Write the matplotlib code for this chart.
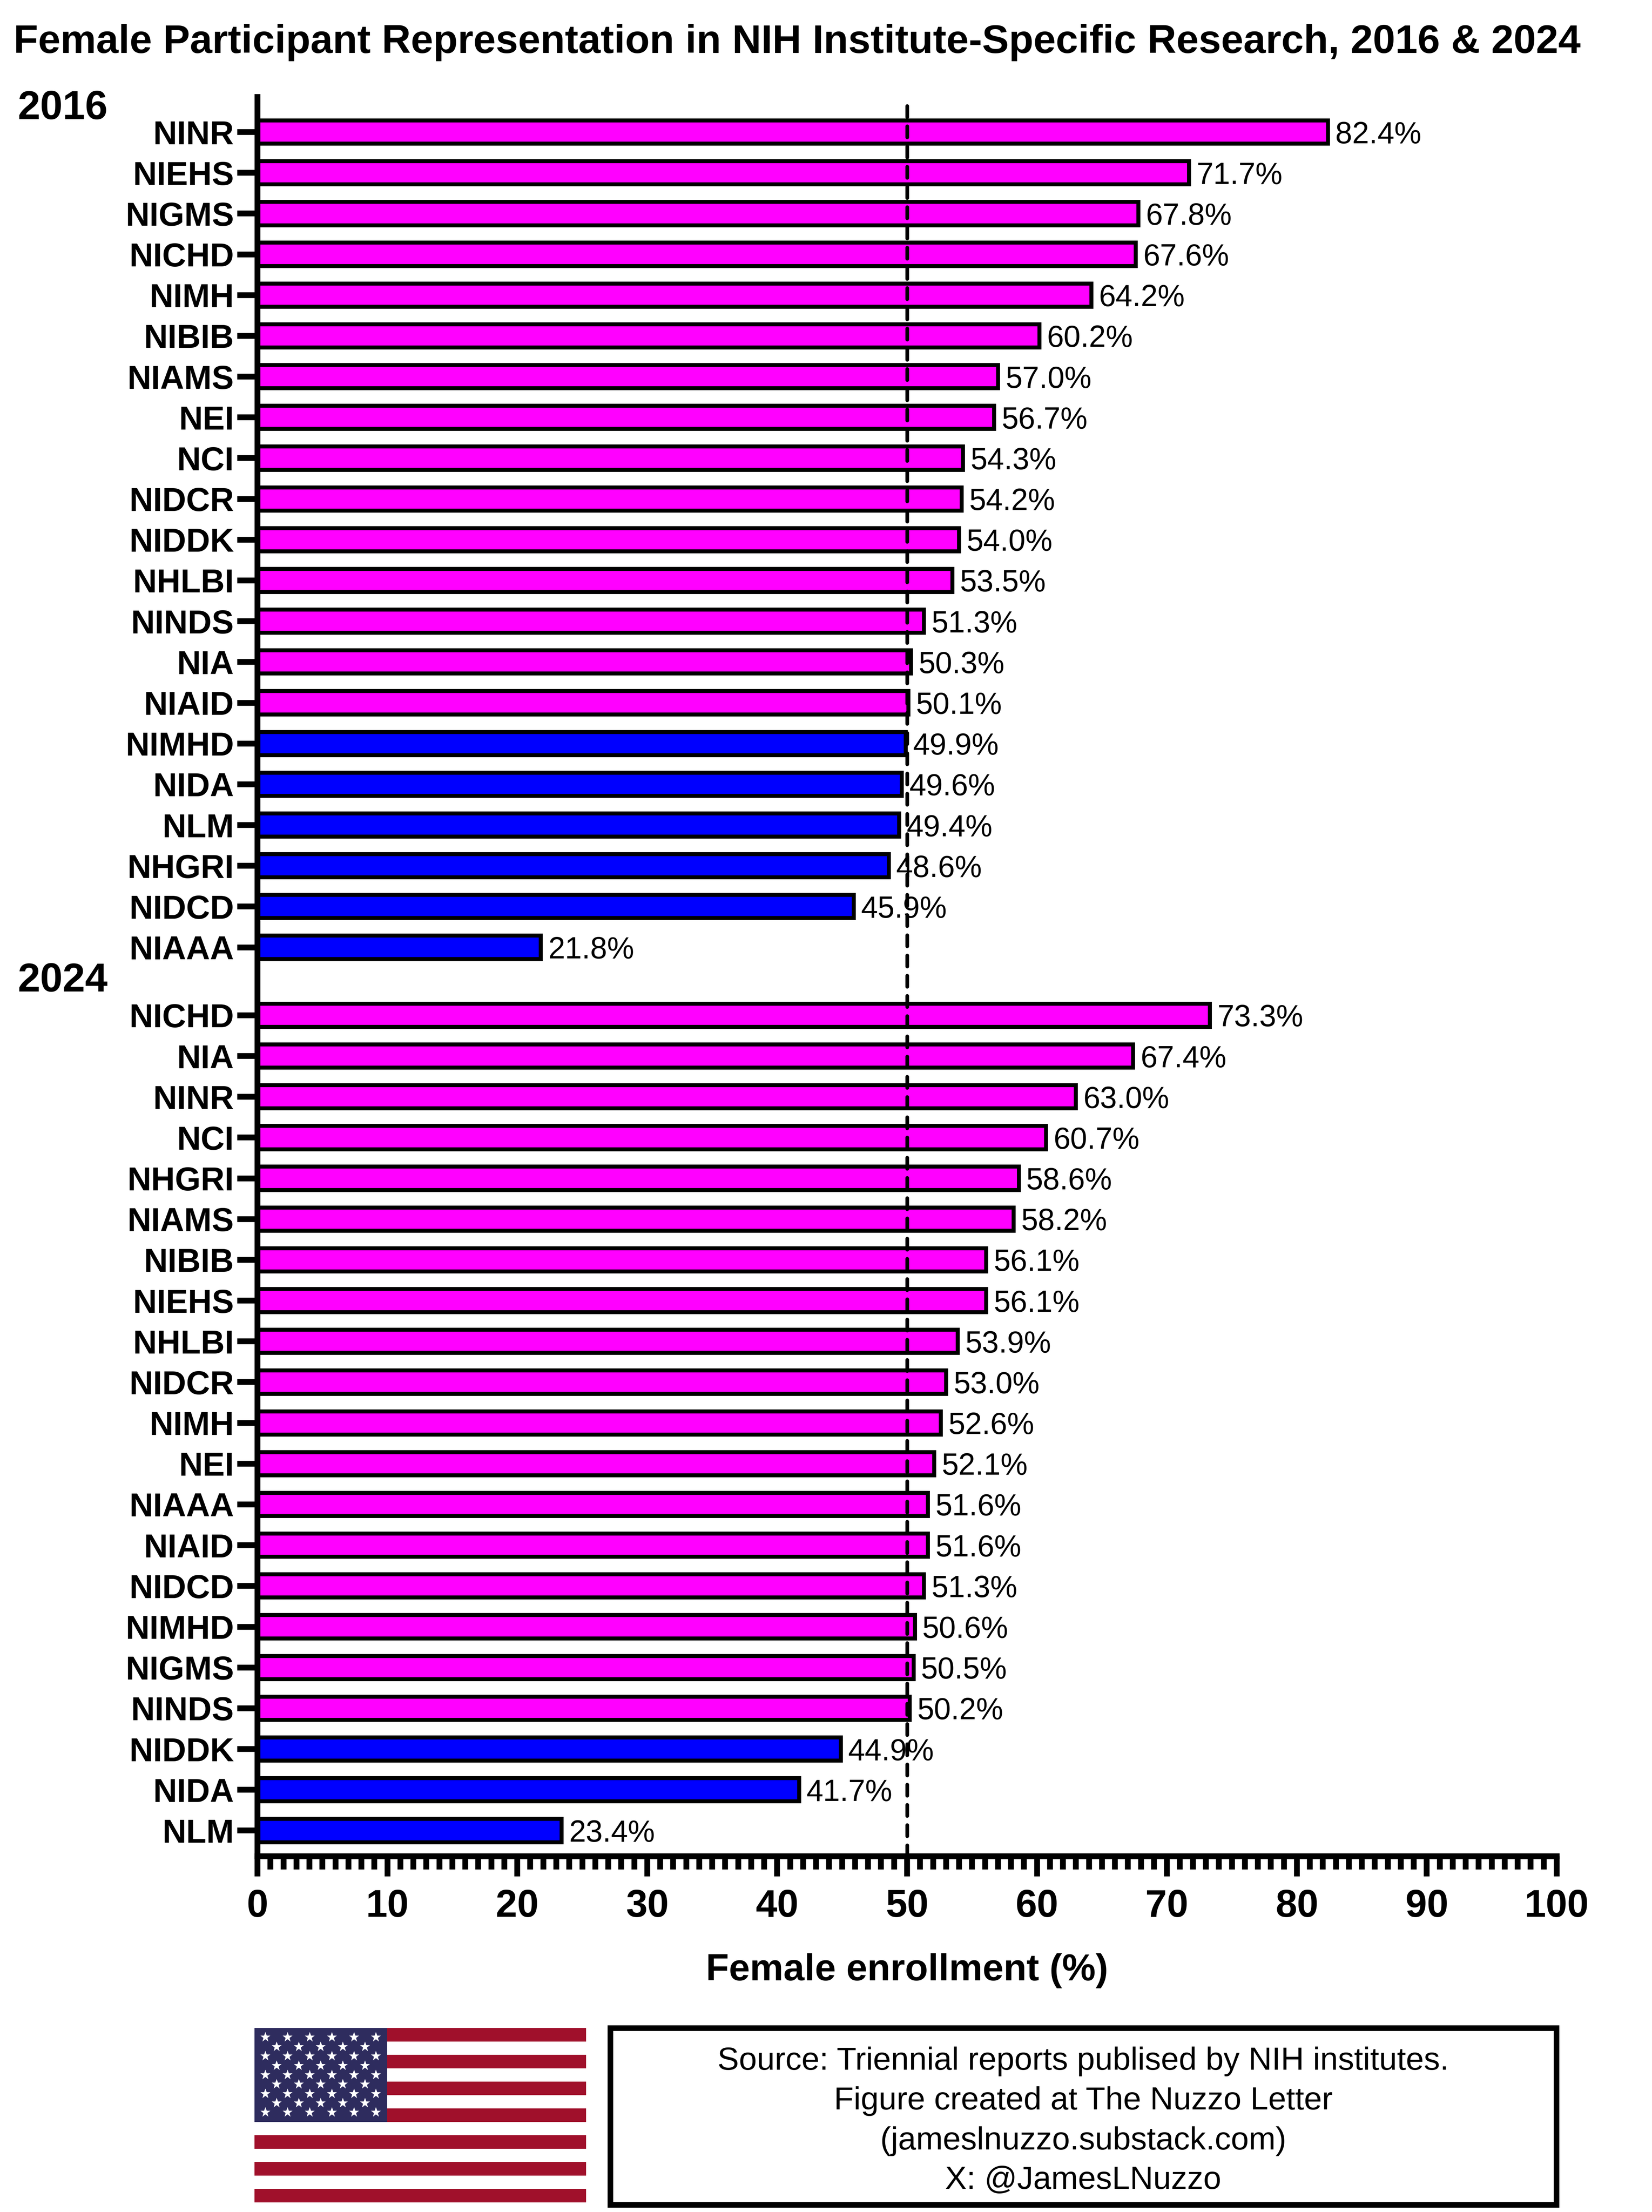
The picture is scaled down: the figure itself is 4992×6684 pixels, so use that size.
import matplotlib
matplotlib.use("Agg")
import matplotlib.pyplot as plt
from matplotlib.patches import Rectangle
from matplotlib.transforms import blended_transform_factory

plt.rcParams['font.family'] = ['Liberation Sans', 'DejaVu Sans']

# ---------------- data ----------------
inst_2016 = ["NINR", "NIEHS", "NIGMS", "NICHD", "NIMH", "NIBIB", "NIAMS", "NEI",
             "NCI", "NIDCR", "NIDDK", "NHLBI", "NINDS", "NIA", "NIAID", "NIMHD",
             "NIDA", "NLM", "NHGRI", "NIDCD", "NIAAA"]
vals_2016 = [82.4, 71.7, 67.8, 67.6, 64.2, 60.2, 57.0, 56.7, 54.3, 54.2, 54.0,
             53.5, 51.3, 50.3, 50.1, 49.9, 49.6, 49.4, 48.6, 45.9, 21.8]

inst_2024 = ["NICHD", "NIA", "NINR", "NCI", "NHGRI", "NIAMS", "NIBIB", "NIEHS",
             "NHLBI", "NIDCR", "NIMH", "NEI", "NIAAA", "NIAID", "NIDCD", "NIMHD",
             "NIGMS", "NINDS", "NIDDK", "NIDA", "NLM"]
vals_2024 = [73.3, 67.4, 63.0, 60.7, 58.6, 58.2, 56.1, 56.1, 53.9, 53.0, 52.6,
             52.1, 51.6, 51.6, 51.3, 50.6, 50.5, 50.2, 44.9, 41.7, 23.4]

year_labels = ["2016", "2024"]
parity = 50
x_ticks = list(range(0, 101, 10))
title = "Female Participant Representation in NIH Institute-Specific Research, 2016 & 2024"
xlabel = "Female enrollment (%)"
source_lines = ["Source: Triennial reports publised by NIH institutes.",
                "Figure created at The Nuzzo Letter",
                "(jameslnuzzo.substack.com)",
                "X: @JamesLNuzzo"]

# ---------------- figure ----------------
W, H = 4992, 6684
DPI = 400
PT = DPI / 72.0
fig = plt.figure(figsize=(W / DPI, H / DPI), dpi=DPI)
fig.patch.set_facecolor("white")


def fx(px):
    return px / W


def fy(py):
    return 1 - py / H


ax_l, ax_r, ax_t, ax_b = 778, 4704, 293, 5609
ax = fig.add_axes([fx(ax_l), fy(ax_b), (ax_r - ax_l) / W, (ax_b - ax_t) / H])

gap = 1.667
pos_2016 = list(range(len(inst_2016)))
pos_2024 = [len(inst_2016) - 1 + gap + i for i in range(len(inst_2024))]
positions = pos_2016 + pos_2024
labels = inst_2016 + inst_2024
values = vals_2016 + vals_2024

MAGENTA = "#FF00FF"
BLUE = "#0000FF"
colors = [MAGENTA if v >= parity else BLUE for v in values]

ax.barh(positions, values, height=0.57, color=colors, edgecolor="black",
        linewidth=12 / PT, zorder=2)

for p, v in zip(positions, values):
    ax.annotate(f"{v:.1f}%", xy=(v, p), xytext=(4.0, 0), textcoords="offset points",
                ha="left", va="center_baseline", fontsize=16.5, color="black", zorder=4)

ax.axvline(parity, color="black", lw=2.0, ls=(0, (3, 2.5)),
           dash_capstyle="round", zorder=5)

ax.set_xlim(0, 100)
ax.set_ylim(pos_2024[-1] + 0.63, -0.861)

ax.set_yticks(positions)
ax.set_yticklabels(labels, fontweight="bold", fontsize=18)
ax.set_xticks(x_ticks)
ax.set_xticklabels([str(t) for t in x_ticks], fontweight="bold", fontsize=21)
ax.set_xticks(range(0, 101, 1), minor=True)

for s in ["top", "right"]:
    ax.spines[s].set_visible(False)
for s in ["left", "bottom"]:
    ax.spines[s].set_linewidth(17.5 / PT)
    ax.spines[s].set_zorder(3)

ax.tick_params(axis="both", which="major", direction="out", length=11,
               width=17.5 / PT, color="black")
ax.tick_params(axis="y", which="major", pad=1.8)
ax.tick_params(axis="x", which="major", pad=6.7)
ax.tick_params(axis="x", which="minor", direction="out", length=7.2,
               width=17.5 / PT, color="black")
ax.tick_params(axis="y", which="minor", left=False)

ax.set_xlabel(xlabel, fontsize=20.5, fontweight="bold", labelpad=15.5)

# year group labels
btrans = blended_transform_factory(fig.transFigure, ax.transData)
year_y = [pos_2016[0] - 0.317, pos_2016[-1] + 1.08]
for lab, yy in zip(year_labels, year_y):
    ax.text(fx(54), yy, lab, transform=btrans, ha="left", va="baseline",
            fontsize=22, fontweight="bold", clip_on=False)

# title
fig.text(fx(41), fy(160), title, ha="left", va="baseline", fontsize=21.85,
         fontweight="bold")

# ---------------- flag ----------------
fl, fr, ft, fb = 769, 1771, 6128, 6655
fax = fig.add_axes([fx(fl), fy(fb), (fr - fl) / W, (fb - ft) / H])
fax.set_xlim(0, 1.9)
fax.set_ylim(0, 1)
fax.axis("off")
RED = "#A0102B"
NAVY = "#2E2C5E"
n_stripes = 13
sh = 1.0 / n_stripes
for k in range(n_stripes):
    c = RED if k % 2 == 0 else "white"
    fax.add_patch(Rectangle((0, 1 - (k + 1) * sh), 1.9, sh, color=c, lw=0))
cw, ch = 0.76, 7 * sh
fax.add_patch(Rectangle((0, 1 - ch), cw, ch, color=NAVY, lw=0))
sx, sy = [], []
for r in range(9):
    yy = 1 - (r + 1) * ch / 10
    if r % 2 == 0:
        xs = [cw / 12 * (2 * j + 1) for j in range(6)]
    else:
        xs = [cw / 12 * (2 * j + 2) for j in range(5)]
    sx += xs
    sy += [yy] * len(xs)
fax.plot(sx, sy, ls="none", marker="*", color="white", ms=5.8, mew=0)

# ---------------- source box ----------------
bl, br, bt, bb = 1843.5, 4703.5, 6127.5, 6661.5
fig.patches.append(Rectangle((fx(bl), fy(bb)), (br - bl) / W, (bb - bt) / H,
                             transform=fig.transFigure, fill=False,
                             ec="black", lw=17 / PT))
baselines = [6254, 6374, 6495, 6614]
for line, b in zip(source_lines, baselines):
    fig.text(fx((bl + br) / 2), fy(b), line, ha="center", va="baseline",
             fontsize=17.5)

fig.savefig("out.png", dpi=DPI)
